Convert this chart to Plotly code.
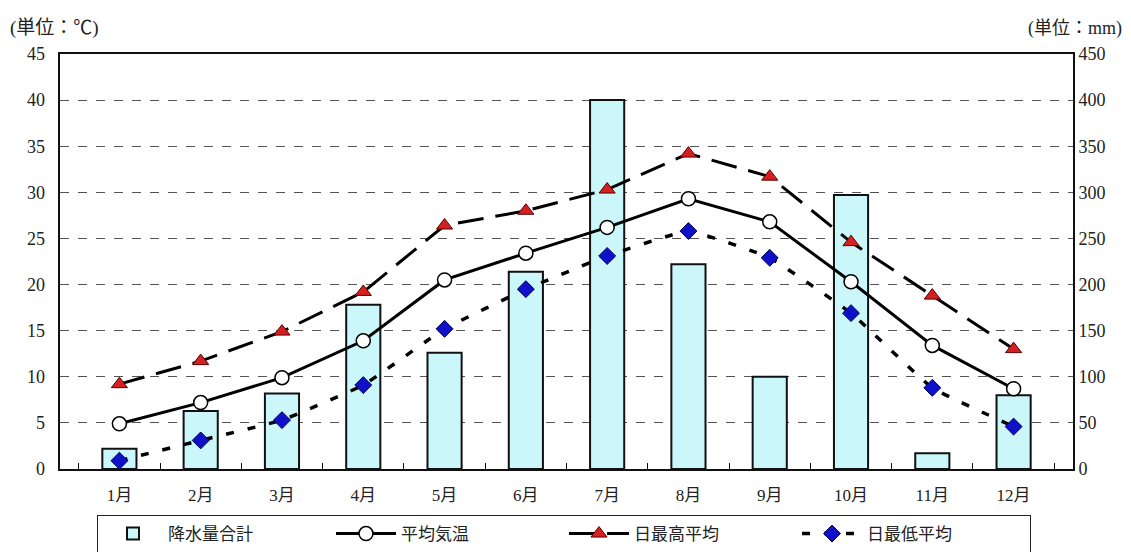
import plotly.graph_objects as go

months = ["1月", "2月", "3月", "4月", "5月", "6月", "7月", "8月", "9月", "10月", "11月", "12月"]
precip_mm = [22, 63, 82, 178, 126, 214, 400, 222, 100, 297, 17, 80]
avg_temp = [4.9, 7.2, 9.9, 13.9, 20.5, 23.4, 26.2, 29.3, 26.8, 20.3, 13.4, 8.7]
max_temp = [9.2, 11.7, 14.9, 19.2, 26.4, 28.0, 30.3, 34.2, 31.7, 24.6, 18.8, 13.0]
min_temp = [0.9, 3.1, 5.3, 9.1, 15.2, 19.5, 23.1, 25.8, 22.9, 16.9, 8.8, 4.6]

FONT = "Liberation Serif, Noto Sans CJK JP, serif"

# the page body has an 8px margin, so the figure is sized to fit the window
W, H = 1123, 544
ML, MR, MT, MB = 52, 58, 46, 83
plot_w = W - ML - MR
plot_h = H - MT - MB
OFF = 8

fig = go.Figure()
fig.add_trace(go.Bar(
    x=months, y=precip_mm, name="降水量合計", yaxis="y", width=0.42,
    marker=dict(color="#ccf7fa", line=dict(color="#111111", width=2)),
))
fig.add_trace(go.Scatter(
    x=months, y=avg_temp, name="平均気温", mode="lines+markers", yaxis="y2",
    line=dict(color="#000000", width=3),
    marker=dict(symbol="circle", size=14, color="white", line=dict(color="#000000", width=1.5)),
))
fig.add_trace(go.Scatter(
    x=months, y=max_temp, name="日最高平均", mode="lines+markers", yaxis="y2",
    line=dict(color="#000000", width=3, dash="26px,12px"),
    marker=dict(symbol="triangle-up", size=14, color="#d42020", line=dict(color="#5a0000", width=1)),
))
fig.add_trace(go.Scatter(
    x=months, y=min_temp, name="日最低平均", mode="lines+markers", yaxis="y2",
    line=dict(color="#000000", width=3.5, dash="8px,14px", shape="spline", smoothing=0.3),
    marker=dict(symbol="diamond", size=13, color="#1010c8", line=dict(color="#000050", width=1)),
))


def px_x(page_x):
    return (page_x - OFF - ML) / plot_w


def px_y(page_y):
    return (H - MB - (page_y - OFF)) / plot_h


fig.update_layout(
    width=W, height=H,
    margin=dict(l=ML, r=MR, t=MT, b=MB, autoexpand=False),
    paper_bgcolor="white", plot_bgcolor="white",
    font=dict(family=FONT, size=16, color="#222222"),
    showlegend=True,
    legend=dict(
        orientation="h", x=px_x(97), xanchor="left",
        y=px_y(515), yanchor="top",
        bordercolor="#222222", borderwidth=1, entrywidth=158,
        font=dict(size=17, family=FONT), itemwidth=60,
        traceorder="normal",
    ),
    xaxis=dict(
        type="category", showline=True, linecolor="#111111", linewidth=2, mirror=True,
        ticks="inside", tickson="boundaries", ticklen=6, tickcolor="#111111",
        showgrid=False, tickfont=dict(size=17), ticklabelstandoff=10,
    ),
    yaxis=dict(
        range=[0, 450], dtick=50, side="right", showline=True, linecolor="#111111",
        linewidth=2, mirror=True,
        showgrid=True, gridcolor="#555555", griddash="dash", gridwidth=1,
        ticks="", zeroline=False, tickfont=dict(size=18),
    ),
    yaxis2=dict(
        range=[0, 45], dtick=5, overlaying="y", side="left", showgrid=False,
        ticks="", zeroline=False, tickfont=dict(size=18), ticklabelstandoff=14,
    ),
    annotations=[
        dict(text="(単位：℃)", x=px_x(8), y=px_y(28),
             xref="paper", yref="paper", showarrow=False, xanchor="left", yanchor="middle",
             font=dict(size=19)),
        dict(text="(単位：mm)", x=px_x(1124), y=px_y(28),
             xref="paper", yref="paper", showarrow=False, xanchor="right", yanchor="middle",
             font=dict(size=18)),
    ],
)

fig.write_html("out.html")
